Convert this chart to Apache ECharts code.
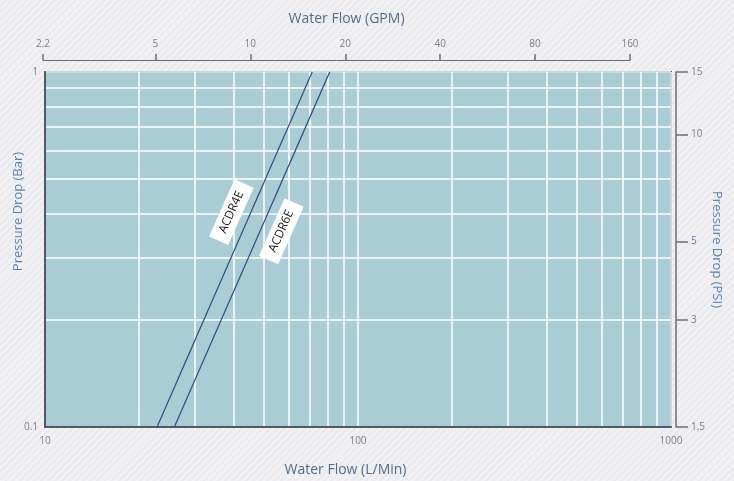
<!DOCTYPE html>
<html><head><meta charset="utf-8">
<script src="https://cdn.jsdelivr.net/npm/echarts@6/dist/echarts.min.js"></script>
<style>
html,body{margin:0;padding:0;}
body{width:734px;height:481px;background:repeating-linear-gradient(135deg,#f1f1f4 0px,#f1f1f4 3px,#e9e9ee 3px,#e9e9ee 5px);}
#c{width:734px;height:481px;}
</style></head>
<body><div id="c"></div>
<script>
// Data
const flowLpmGrid = [10,20,30,40,50,60,70,80,90,100,200,300,400,500,600,700,800,900,1000];
const flowLpmLabels = [10,100,1000];
const barGrid = [0.1,0.2,0.3,0.4,0.5,0.6,0.7,0.8,0.9,1];
const barLabels = [0.1,1];
const psiTicks = [1.5,3,5,10,15];
const gpmTicks = [2.2,5,10,20,40,80,160];
const acdr4e = [[22.8,0.1],[71.4,1]];
const acdr6e = [[25.9,0.1],[81.2,1]];
const acdr4eLabelAt = [39.4,0.403];
const acdr6eLabelAt = [56.9,0.356];

const font = '"Open Sans", "DejaVu Sans", sans-serif';
const labelColor = '#7b8088';
const titleColor = '#536d88';
const blueText = '#5c82aa';
const lineColor = '#2d4c80';
const plain = v => String(v);

const chart = echarts.init(document.getElementById('c'), null, {renderer:'canvas'});
const tagLabel = (txt) => ({
  show:true, formatter:txt, rotate:66, position:'inside',
  backgroundColor:'#ffffff', color:'#222', fontFamily:font, fontSize:12,
  padding:[5,9,4,9]
});
chart.setOption({
  animation:false,
  grid:[
    {left:45,right:63,top:72,bottom:54,show:true,backgroundColor:'#a9ccd5',borderColor:'#4f5b60',borderWidth:2,
     containLabel:false,outerBoundsMode:'none'},
    {left:43,right:104,top:59,height:1,containLabel:false,outerBoundsMode:'none'}
  ],
  xAxis:[
    {type:'log',gridIndex:0,min:10,max:1000,position:'bottom',
     name:'Water Flow (L/Min)',nameLocation:'middle',nameGap:36,
     nameTextStyle:{color:titleColor,fontFamily:font,fontSize:14,padding:[0,25,0,0]},
     axisLine:{show:true,lineStyle:{color:'#4f5b60',width:2}},
     axisTick:{show:false,customValues:flowLpmGrid},
     axisLabel:{customValues:flowLpmLabels,formatter:plain,color:labelColor,fontFamily:font,fontSize:10,margin:9},
     splitLine:{show:true,lineStyle:{color:'#ffffff',width:1.5}},
     minorTick:{show:false},minorSplitLine:{show:false}},
    {type:'log',gridIndex:1,min:2.2,max:160,position:'top',
     name:'Water Flow (GPM)',nameLocation:'middle',nameGap:33,
     nameTextStyle:{color:titleColor,fontFamily:font,fontSize:14,padding:[0,0,0,20]},
     axisLine:{show:true,lineStyle:{color:'#6a6e72',width:1}},
     axisTick:{show:true,length:6,customValues:gpmTicks,lineStyle:{color:'#6a6e72',width:1.5}},
     axisLabel:{customValues:gpmTicks,formatter:plain,color:labelColor,fontFamily:font,fontSize:10,margin:10},
     splitLine:{show:false}}
  ],
  yAxis:[
    {type:'log',gridIndex:0,min:0.1,max:1,position:'left',
     name:'Pressure Drop (Bar)',nameLocation:'middle',nameGap:20,nameRotate:90,nameMoveOverlap:false,
     nameTextStyle:{color:blueText,fontFamily:font,fontSize:13,padding:[0,0,0,76]},
     axisLine:{show:true,lineStyle:{color:'#4f5b60',width:2}},
     axisTick:{show:false,customValues:barGrid},
     axisLabel:{customValues:barLabels,formatter:plain,color:labelColor,fontFamily:font,fontSize:10,margin:7},
     splitLine:{show:true,lineStyle:{color:'#ffffff',width:1.5}}},
    {type:'log',gridIndex:0,min:1.5,max:15,position:'right',offset:5,
     name:'Pressure Drop (PSI)',nameLocation:'middle',nameGap:34,nameRotate:-90,nameMoveOverlap:false,
     nameTextStyle:{color:blueText,fontFamily:font,fontSize:13},
     axisLine:{show:true,lineStyle:{color:'#6a6e72',width:1.5}},
     axisTick:{show:true,inside:false,length:12,customValues:psiTicks,lineStyle:{color:'#6a6e72',width:1.5}},
     axisLabel:{customValues:psiTicks,formatter:plain,
       color:(v)=> (Number(v)===5 ? blueText : labelColor),
       fontFamily:font,fontSize:10,margin:15},
     splitLine:{show:false}},
    {type:'value',gridIndex:1,show:false}
  ],
  series:[
    {type:'line',name:'ACDR4E',xAxisIndex:0,yAxisIndex:0,data:acdr4e,symbol:'none',z:3,
     lineStyle:{color:lineColor,width:1.2},
     markPoint:{symbol:'rect',symbolSize:1,itemStyle:{color:'rgba(0,0,0,0)'},
       data:[{coord:acdr4eLabelAt,label:tagLabel('ACDR4E')}]}},
    {type:'line',name:'ACDR6E',xAxisIndex:0,yAxisIndex:0,data:acdr6e,symbol:'none',z:3,
     lineStyle:{color:lineColor,width:1.2},
     markPoint:{symbol:'rect',symbolSize:1,itemStyle:{color:'rgba(0,0,0,0)'},
       data:[{coord:acdr6eLabelAt,label:tagLabel('ACDR6E')}]}}
  ]
});
</script></body></html>
